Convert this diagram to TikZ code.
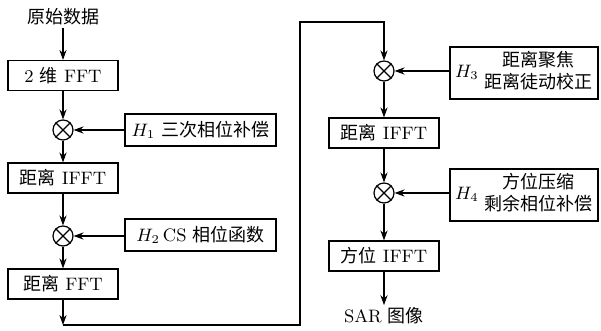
\documentclass[tikz,border=0pt]{standalone}
\usepackage{fontspec}
\newfontfamily\cjk{Noto Sans CJK SC}
\usetikzlibrary{arrows.meta}
\begin{document}
\begin{tikzpicture}[x=0.5pt,y=-0.5pt,
  font=\fontsize{9}{11}\selectfont,
  >={Stealth[length=5pt,width=3.6pt]},
  line width=0.6pt,
  stepbox/.style={draw,minimum width=55pt,minimum height=15pt,inner sep=0pt},
  hbox/.style={draw,minimum width=75.5pt,minimum height=16pt,inner sep=0pt},
  hbox2/.style={draw,minimum width=74pt,minimum height=26pt,inner sep=0pt},
  mul/.style={draw,circle,minimum size=10pt,inner sep=0pt},
  lbl/.style={inner sep=1pt}]
\useasboundingbox (0,0) rectangle (601,331);
% left column
\node[lbl] (src) at (63,17) {\cjk 原始数据};
\node[stepbox] (b1) at (63,75.5) {2 {\cjk 维} FFT};
\node[mul] (m1) at (63,130) {};
\node[hbox] (h1) at (200.5,130) {$H_1$ {\cjk 三次相位补偿}};
\node[stepbox] (b2) at (63,178) {{\cjk 距离} IFFT};
\node[mul] (m2) at (63,236) {};
\node[hbox] (h2) at (200.5,235) {$H_2$\,CS {\cjk 相位函数}};
\node[stepbox] (b3) at (63,284) {{\cjk 距离} FFT};
\coordinate (c1) at (63,325);
\coordinate (c2) at (300,325);
\coordinate (c3) at (300,22);
% right column
\node[mul] (m3) at (384,71) {};
\node[hbox2] (h3) at (524,73) {$H_3$\ \renewcommand\arraystretch{0.95}\begin{tabular}{@{}c@{}}\cjk 距离聚焦\\\cjk 距离徒动校正\end{tabular}};
\node[stepbox] (b4) at (384,133) {{\cjk 距离} IFFT};
\node[mul] (m4) at (384,193) {};
\node[hbox2] (h4) at (524,195) {$H_4$\ \renewcommand\arraystretch{0.95}\begin{tabular}{@{}c@{}}\cjk 方位压缩\\\cjk 剩余相位补偿\end{tabular}};
\node[stepbox] (b5) at (384,256) {{\cjk 方位} IFFT};
\node[lbl] (out) at (384,316) {SAR {\cjk 图像}};
% crosses
\foreach \m in {m1,m2,m3,m4}{
  \draw (\m.north east) -- (\m.south west);
  \draw (\m.north west) -- (\m.south east);
}
% connectors
\draw[->] (src) -- (b1);
\draw[->] (b1) -- (m1);
\draw[->] (h1) -- (m1);
\draw[->] (m1) -- (b2);
\draw[->] (b2) -- (m2);
\draw[->] (h2.west |- m2) -- (m2);
\draw[->] (m2) -- (b3);
\draw[->] (b3) -- (c1);
\draw[->] (c1) -- (c2) -- (c3) -| (m3);
\draw[->] (h3.west |- m3) -- (m3);
\draw[->] (m3) -- (b4);
\draw[->] (b4) -- (m4);
\draw[->] (h4.west |- m4) -- (m4);
\draw[->] (m4) -- (b5);
\draw[->] (b5) -- (out);
\end{tikzpicture}
\end{document}
